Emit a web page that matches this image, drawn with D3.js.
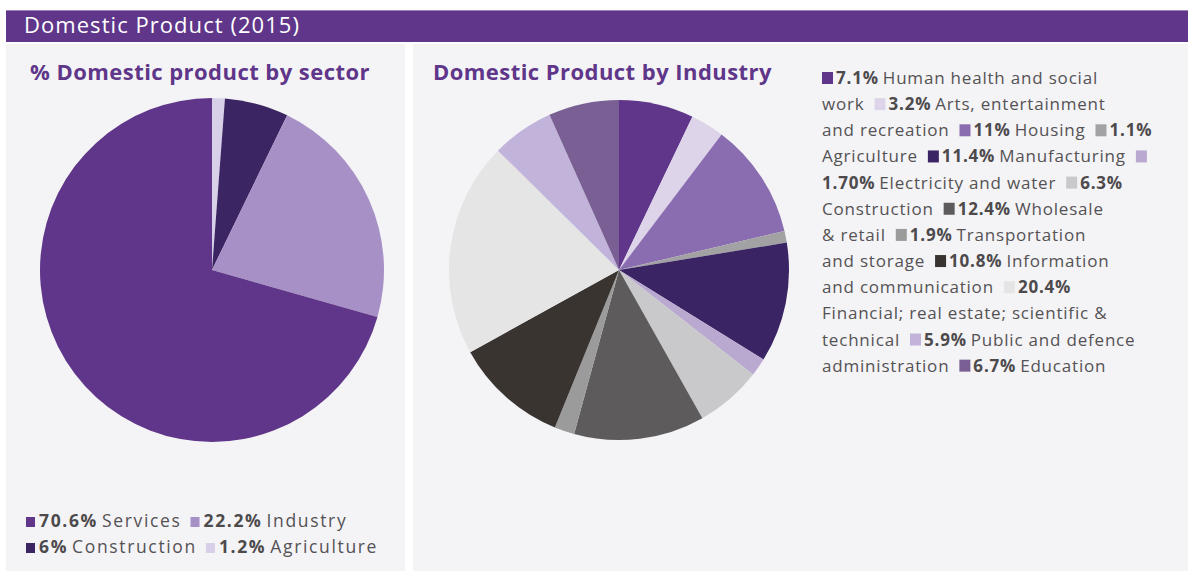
<!DOCTYPE html>
<html>
<head>
<meta charset="utf-8">
<script src="https://cdn.jsdelivr.net/npm/d3@7"></script>
<style>
  body { margin: 0; background: #ffffff; }
  svg { display: block; }
  text { font-family: "Open Sans", "Noto Sans", sans-serif; }
</style>
</head>
<body>
<svg id="chart" width="1188" height="572"></svg>
<script>
// ---- Data ----
const chartTitle = "Domestic Product (2015)";

const sectorTitle = "% Domestic product by sector";
const sectorNames = ["Agriculture", "Construction", "Industry", "Services"];
const sectorValues = [1.2, 6, 22.2, 70.6];
const sectorPctLabels = ["1.2%", "6%", "22.2%", "70.6%"];
const sectorColors = ["#d8cfe8", "#3b2562", "#a690c6", "#5f3689"];
// legend rows, by sector name
const sectorLegendRows = [["Services", "Industry"], ["Construction", "Agriculture"]];

const industryTitle = "Domestic Product by Industry";
// "|" marks a line break inside the flowing legend text
const industryNames = [
  "Human health and social|work",
  "Arts, entertainment|and recreation",
  "Housing",
  "|Agriculture",
  "Manufacturing",
  "Electricity and water",
  "|Construction",
  "Wholesale|& retail",
  "Transportation|and storage",
  "Information|and communication",
  "|Financial; real estate; scientific &|technical",
  "Public and defence|administration",
  "Education"
];
const industryValues = [7.1, 3.2, 11, 1.1, 11.4, 1.70, 6.3, 12.4, 1.9, 10.8, 20.4, 5.9, 6.7];
const industryPctLabels = ["7.1%", "3.2%", "11%", "1.1%", "11.4%", "|1.70%", "6.3%", "12.4%", "1.9%", "10.8%", "20.4%", "5.9%", "6.7%"];
const industryColors = [
  "#5f3689", "#ddd4ea", "#8a6cb0", "#a2a1a3", "#3b2463", "#b9a9d0", "#c9c8ca",
  "#5e5b5c", "#9c9b9c", "#3a3431", "#e5e5e6", "#c1b3da", "#795f93"
];

// ---- Layout ----
const svg = d3.select("#chart");
const W = 1188, H = 572;
const purple = "#5f3689";

// Header bar
svg.append("rect").attr("x", 6).attr("y", 10).attr("width", W - 6).attr("height", 32).attr("fill", purple);
svg.append("rect").attr("x", 6).attr("y", 10).attr("width", W - 6).attr("height", 1).attr("fill", "#9b82bd");
svg.append("text").attr("x", 24).attr("y", 32.5)
  .attr("fill", "#ffffff").attr("font-size", 22).attr("font-weight", 400)
  .attr("letter-spacing", 1.05)
  .text(chartTitle);

// Panels
svg.append("rect").attr("x", 6).attr("y", 44).attr("width", 399).attr("height", 527).attr("fill", "#f4f4f6");
svg.append("rect").attr("x", 413).attr("y", 44).attr("width", W - 413).attr("height", 527).attr("fill", "#f4f4f6");

// Panel titles
svg.append("text").attr("x", 30).attr("y", 79.5)
  .attr("fill", purple).attr("font-size", 22).attr("font-weight", 700)
  .attr("letter-spacing", 0.45)
  .text(sectorTitle);
svg.append("text").attr("x", 433).attr("y", 79.5)
  .attr("fill", purple).attr("font-size", 22).attr("font-weight", 700)
  .attr("letter-spacing", 0.45)
  .text(industryTitle);

// Pie helper
function drawPie(cx, cy, r, values, colors) {
  const pie = d3.pie().sort(null).value(d => d);
  const arc = d3.arc().innerRadius(0).outerRadius(r);
  svg.append("g").attr("transform", `translate(${cx},${cy})`)
    .selectAll("path")
    .data(pie(values))
    .join("path")
    .attr("d", arc)
    .attr("fill", (d, i) => colors[i]);
}

drawPie(212, 270, 172, sectorValues, sectorColors);
drawPie(619, 270, 170, industryValues, industryColors);

// Flowing legend: square, bold percentage, label; "|" forces a new line
function flowLegend(items, x0, y0, lineH, o) {
  const g = svg.append("g");
  let x = x0, y = y0;
  const newline = () => { x = x0; y += lineH; };
  const write = (str, weight, fill, gapBefore) => {
    str.split("|").forEach((part, k) => {
      if (k > 0) newline();
      if (!part) return;
      if (x > x0 && gapBefore) x += gapBefore;
      const t = g.append("text").attr("x", x).attr("y", y)
        .attr("font-size", o.size).attr("font-weight", weight).attr("fill", fill)
        .attr("letter-spacing", o.tracking)
        .text(part);
      x += t.node().getComputedTextLength();
    });
  };
  items.forEach(it => {
    if (it.breakBefore) newline();
    else if (x > x0) x += o.itemGap;
    g.append("rect").attr("x", x).attr("y", y - o.sq)
      .attr("width", o.sqW).attr("height", o.sq).attr("fill", it.color);
    x += o.sqW + o.sqGap;
    write(it.pct, 700, "#4d4a4c", 0);
    write(it.label, 400, "#555255", o.space);
  });
}

// Sector legend
const sectorItems = [];
sectorLegendRows.forEach((row, ri) => row.forEach((name, ci) => {
  const i = sectorNames.indexOf(name);
  sectorItems.push({ color: sectorColors[i], pct: sectorPctLabels[i], label: name, breakBefore: ri > 0 && ci === 0 });
}));
flowLegend(sectorItems, 26, 527, 26,
  { size: 17.5, tracking: 1.65, sq: 10, sqW: 9, sqGap: 4, itemGap: 9, space: 4 });

// Industry legend
const industryItems = industryNames.map((label, i) => ({
  color: industryColors[i], pct: industryPctLabels[i], label: label
}));
flowLegend(industryItems, 822, 84, 26.15,
  { size: 17, tracking: 0.8, sq: 12, sqW: 11, sqGap: 3, itemGap: 10, space: 4 });
</script>
</body>
</html>
